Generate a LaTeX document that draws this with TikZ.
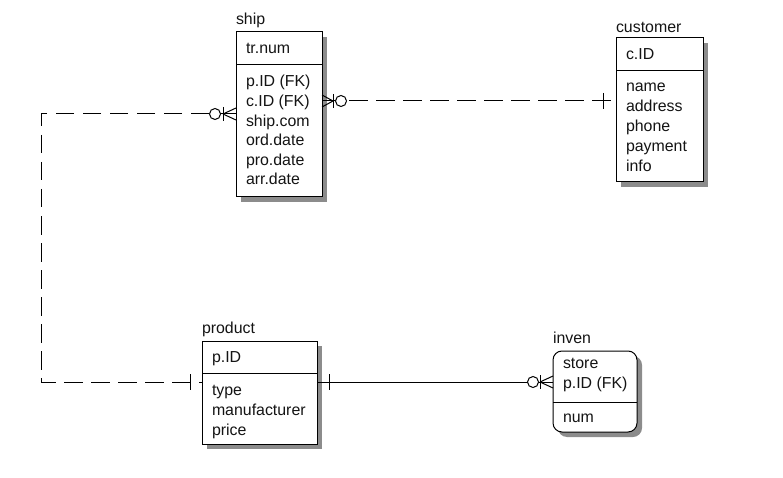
\documentclass[tikz,border=0pt]{standalone}
\usepackage{fontspec}
\setmainfont{Liberation Sans}
\usetikzlibrary{shadows}
\begin{document}
\begin{tikzpicture}[x=1pt,y=-1pt,
  every node/.style={inner sep=0pt,outer sep=0pt},
  entity/.style={draw=black,line width=1pt,fill=white,anchor=north west,
    drop shadow={shadow xshift=5pt,shadow yshift=-5pt,fill=black!45,opacity=1}},
  txt/.style={anchor=base west,font=\fontsize{15.9}{17}\selectfont,text=black!92},
  rel/.style={line width=1pt,black},
  reldash/.style={rel,dash pattern=on 18.5pt off 8.5pt},
  sym/.style={line width=1pt,black}]
\useasboundingbox (0,0) rectangle (783,478);

% ---- entities ----
\node[entity,minimum width=86pt,minimum height=165pt] (ship) at (236,32) {};
\draw[line width=1pt] (236,65) -- (322,65);
\node[txt] (shipT) at (236,25) {ship};
\node[txt] (ship0) at (246,54) {tr.num};
\node[txt] (ship1) at (246,87) {p.ID (FK)};
\node[txt] (ship2) at (246,106.6) {c.ID (FK)};
\node[txt] (ship3) at (246,126.2) {ship.com};
\node[txt] (ship4) at (246,145.8) {ord.date};
\node[txt] (ship5) at (246,165.4) {pro.date};
\node[txt] (ship6) at (246,185) {arr.date};

\node[entity,minimum width=87pt,minimum height=144pt] (cust) at (616,38) {};
\draw[line width=1pt] (616,71) -- (703,71);
\node[txt] (custT) at (616,33) {customer};
\node[txt] (cust0) at (626,60) {c.ID};
\node[txt] (cust1) at (626,92) {name};
\node[txt] (cust2) at (626,112) {address};
\node[txt] (cust3) at (626,132) {phone};
\node[txt] (cust4) at (626,152) {payment};
\node[txt] (cust5) at (626,172) {info};

\node[entity,minimum width=115pt,minimum height=103pt] (prod) at (202,341) {};
\draw[line width=1pt] (202,373) -- (317,373);
\node[txt] (prodT) at (202,333) {product};
\node[txt] (prod0) at (212,362) {p.ID};
\node[txt] (prod1) at (212,395) {type};
\node[txt] (prod2) at (212,415) {manufacturer};
\node[txt] (prod3) at (212,435) {price};

\node[entity,rounded corners=9pt,minimum width=84pt,minimum height=81pt] (inv) at (553,351) {};
\draw[line width=1pt] (553,402) -- (637,402);
\node[txt] (invT) at (553,343) {inven};
\node[txt] (inv0) at (563,368.5) {store};
\node[txt] (inv1) at (563,388) {p.ID (FK)};
\node[txt] (inv2) at (563,422) {num};

% ---- relationships ----
\coordinate (bendA) at (41,114);
\coordinate (bendB) at (41,382);

% ship >--- product (dashed, routed round the left)
\draw[reldash] (ship.west |- bendA) -- (bendA) -- (bendB) -- (prod.west |- bendB);
\draw[sym,fill=white] (215,114) circle [radius=5.5pt];
\draw[sym] (223,107) -- (223,121);
\draw[sym] (223,114) -- (236,108) (223,114) -- (236,120);
\draw[sym] (190,374) -- (190,390);

% ship >--- customer (dashed)
\draw[reldash] (ship.east |- 0,101) -- (cust.west |- 0,101);
\draw[sym,fill=white] (341,101) circle [radius=5.5pt];
\draw[sym] (333,94) -- (333,108);
\draw[sym] (333,101) -- (322,95) (333,101) -- (322,107);
\draw[sym] (603,93) -- (603,109);

% product ---< inven (solid)
\draw[rel] (prod.east |- 0,382) -- (inv.west |- 0,382);
\draw[sym] (329,374) -- (329,390);
\draw[sym,fill=white] (533,382) circle [radius=5.5pt];
\draw[sym] (540,375) -- (540,389);
\draw[sym] (540,382) -- (553,376) (540,382) -- (553,388);
\end{tikzpicture}
\end{document}
